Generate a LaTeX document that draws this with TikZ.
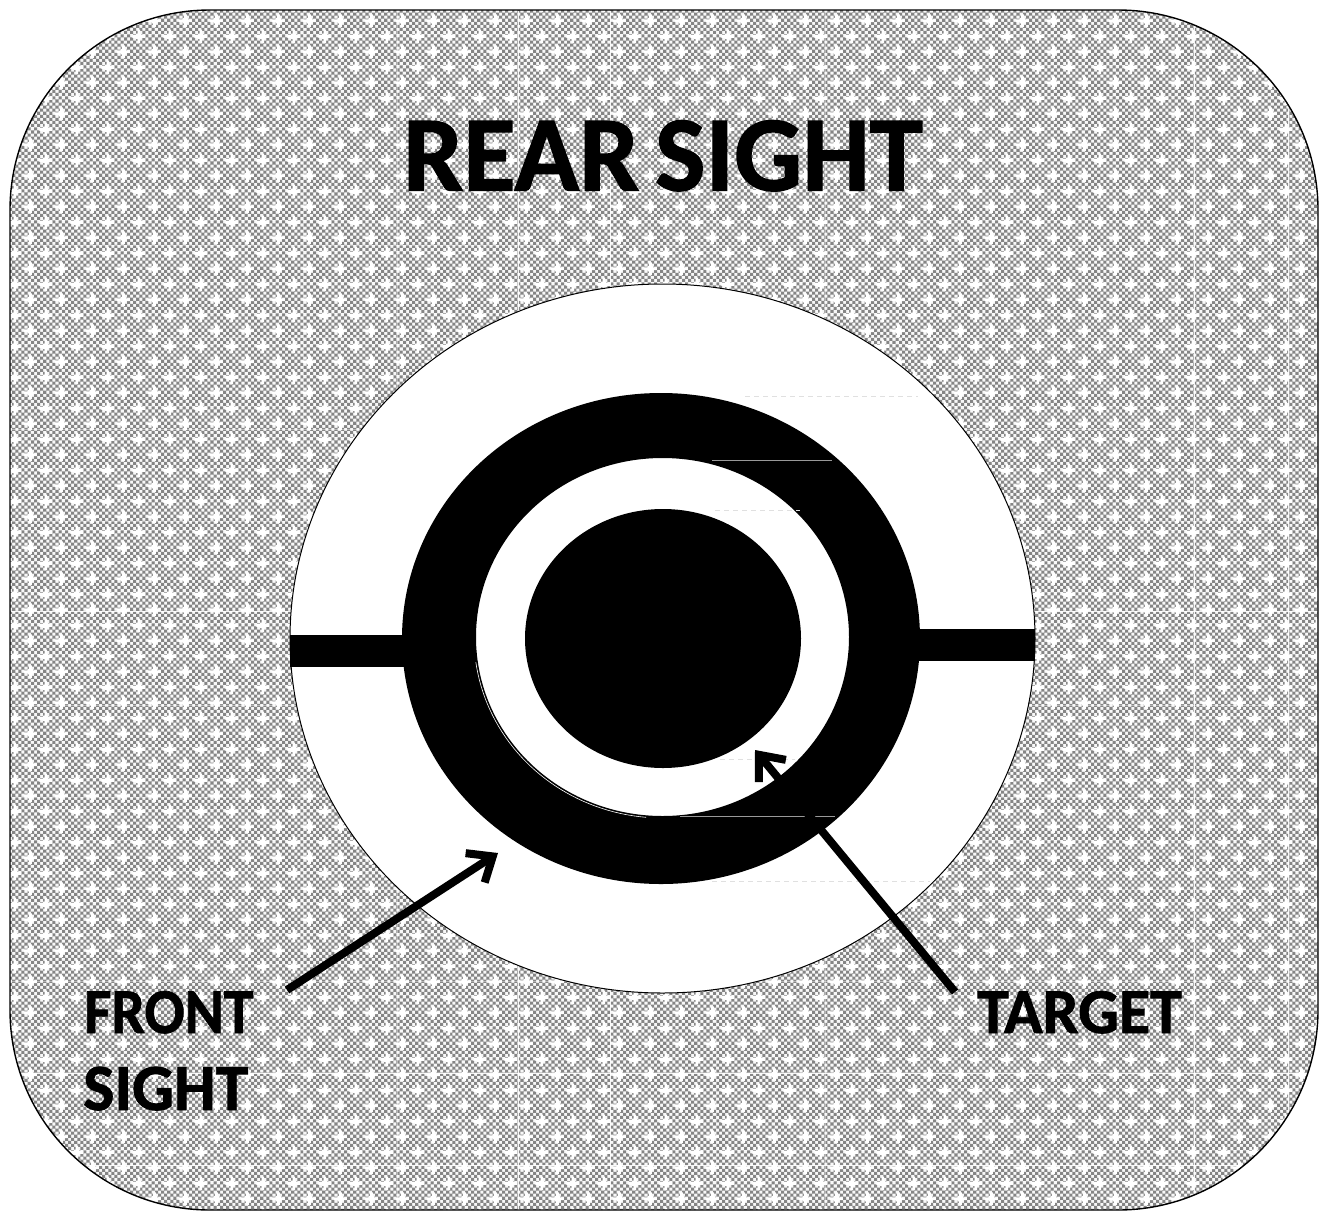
\documentclass[tikz,border=0pt]{standalone}
\usepackage{fontspec}
\setmainfont[BoldFeatures={FakeBold=1.2}]{Carlito}
\usetikzlibrary{patterns,arrows.meta}
\definecolor{meshdark}{HTML}{858585}
\definecolor{meshlight}{HTML}{F8F8F8}
\pgfdeclarepatterninherentlycolored{sightmesh}{\pgfqpoint{0pt}{0pt}}{\pgfqpoint{30.8pt}{30.8pt}}{\pgfqpoint{30.8pt}{30.8pt}}{%
  \pgfsetfillcolor{meshlight}%
  \pgfpathrectangle{\pgfqpoint{0pt}{0pt}}{\pgfqpoint{30.8pt}{30.8pt}}\pgfusepath{fill}%
  \pgfsetfillcolor{meshdark}%
  \foreach \i in {0,...,9}{\foreach \j in {0,...,9}{%
    \pgfmathparse{int(mod(\i+\j,2))}%
    \ifnum\pgfmathresult=0 %
      \pgfpathrectangle{\pgfpoint{\i*3.08pt}{\j*3.08pt}}{\pgfqpoint{3.08pt}{3.08pt}}%
    \fi}}%
  \pgfusepath{fill}%
  \pgfsetfillcolor{white}%
  \foreach \cx/\cy in {30.3/13.3,-0.5/13.3,14.9/28.7,14.9/-2.1}{%
    \pgfpathrectangle{\pgfpoint{\cx pt-6.5pt}{\cy pt-1.3pt}}{\pgfqpoint{13pt}{2.6pt}}%
    \pgfpathrectangle{\pgfpoint{\cx pt-1.3pt}{\cy pt-6.5pt}}{\pgfqpoint{2.6pt}{13pt}}%
    \pgfpathrectangle{\pgfpoint{\cx pt-2.6pt}{\cy pt-2.6pt}}{\pgfqpoint{5.2pt}{5.2pt}}%
  }%
  \pgfusepath{fill}%
}
\tikzset{
  panel/.style={draw=black,line width=1.4pt,rounded corners=200pt,pattern=sightmesh},
  seam/.style={white,line width=0.8pt,opacity=#1},
  blackshape/.style={fill=black,draw=none},
  pointer/.style={line width=8pt,black,-{Straight Barb[length=21pt,width=35pt,line width=8pt]}},
  caption/.style={font=\fontsize{#1}{#1}\selectfont\bfseries,text=black,inner sep=0pt,anchor=base west},
  ghost/.style={line width=0.5pt,dash pattern=on 5pt off 4pt,black!12},
  crack/.style={line width=0.5pt,white!60!black}
}
\begin{document}
\begin{tikzpicture}[x=1pt,y=-1pt]
\useasboundingbox (0,0) rectangle (1323,1211);
\begin{scope}
\clip (0,0) rectangle (1323,1211);
\draw[panel] (10,10) rectangle (1318,1210);
\begin{scope}
\clip[rounded corners=200pt] (11,11) rectangle (1317,1209);
\foreach \sx in {518,610,1194,1288}{\draw[seam=0.9] (\sx,0) -- (\sx,1211);}
\foreach \sx in {303,397,716,825}{\draw[seam=0.4] (\sx,0) -- (\sx,1211);}
\foreach \sy in {611,1073,1165}{\draw[seam=0.9] (0,\sy) -- (1323,\sy);}
\foreach \sy in {245,337,429,521,705,797,889,981}{\draw[seam=0.4] (0,\sy) -- (1323,\sy);}
\end{scope}
\end{scope}
% sight picture
\draw[black,line width=1pt,fill=white] (662.5,638.5) ellipse [x radius=372.5,y radius=354.5];
\fill[blackshape,even odd rule] (661,638.5) ellipse [x radius=259,y radius=245.5]
   (662.5,637) ellipse [x radius=186.5,y radius=179];
\fill[blackshape] (290.3,635) rectangle (404,667);
\fill[blackshape] (919,629) rectangle (1035,661);
\fill[blackshape] (663,638.5) ellipse [x radius=138,y radius=129.5];
% faint artefacts
\draw[white,line width=0.6pt] plot[domain=95:172,samples=40] ({662.5+188.5*cos(\x)},{637+181*sin(\x)});
\draw[crack] (680,816.5) -- (835,816.5);
\draw[crack] (712,460.5) -- (832,460.5);
\draw[ghost] (745,396) -- (918,396);
\draw[ghost] (715,510) -- (800,510);
\draw[ghost] (720,759.5) -- (795,759.5);
\draw[ghost] (712,881.5) -- (930,881.5);
% labels
\node[caption=107] (rear) at (403,190.5) {REAR\hspace{-0.08em} SIGHT};
\node[caption=64] (front) at (84,1033) {\scalebox{0.93}[1]{FRONT}};
\node[caption=66] (sight) at (83,1110) {SIGHT};
\node[caption=64] (target) at (977,1033) {TARGET};
% pointers
\coordinate (frontstart) at (287,990);
\coordinate (fronttip) at (498,853);
\coordinate (targetstart) at (955,992);
\coordinate (targettip) at (755,750);
\draw[pointer] (frontstart) -- (fronttip);
\draw[pointer] (targetstart) -- (targettip);
\end{tikzpicture}
\end{document}
